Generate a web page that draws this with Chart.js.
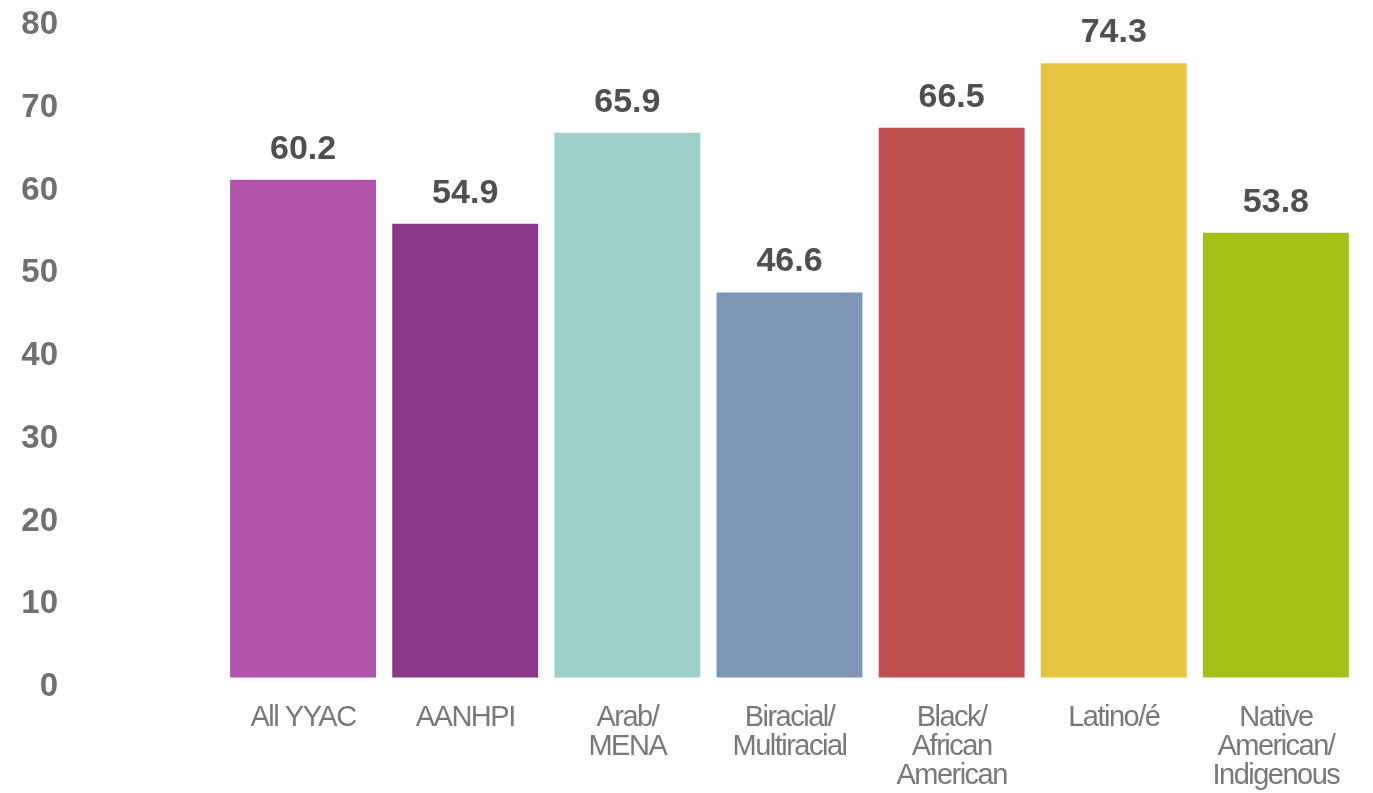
<!DOCTYPE html>
<html>
<head>
<meta charset="utf-8">
<script src="https://cdn.jsdelivr.net/npm/chart.js@4"></script>
<style>
  html, body { margin: 0; padding: 0; background: #ffffff; }
  #wrap { width: 1373px; height: 793px; position: relative; }
</style>
</head>
<body>
<div id="wrap"><canvas id="chart"></canvas></div>
<script>
const categories = [
  ['All YYAC'],
  ['AANHPI'],
  ['Arab/', 'MENA'],
  ['Biracial/', 'Multiracial'],
  ['Black/', 'African', 'American'],
  ['Latino/é'],
  ['Native', 'American/', 'Indigenous']
];
const values = [60.2, 54.9, 65.9, 46.6, 66.5, 74.3, 53.8];
const barColors = ['#b054ab', '#873889', '#9bd1c8', '#7f96b7', '#c04f4f', '#e6c440', '#a5c118'];
const yTicks = [0, 10, 20, 30, 40, 50, 60, 70, 80];


// x labels in the original are set tight, so squeeze them a bit
const tightText = {
  id: 'tightText',
  beforeDraw(chart) {
    chart.ctx.letterSpacing = '-1.5px';
  },
  beforeDatasetsDraw(chart) {
    chart.ctx.letterSpacing = '0px';
  }
};

// draws the value above each bar
const valueLabels = {
  id: 'valueLabels',
  afterDatasetsDraw(chart) {
    const ctx = chart.ctx;
    const meta = chart.getDatasetMeta(0);
    ctx.save();
    ctx.font = 'bold 34px "Liberation Sans", Arial, sans-serif';
    ctx.fillStyle = '#4f4f4f';
    ctx.textAlign = 'center';
    ctx.textBaseline = 'alphabetic';
    meta.data.forEach((bar, i) => {
      ctx.fillText(values[i].toFixed(1), bar.x, bar.y - 21);
    });
    ctx.restore();
  }
};


new Chart(document.getElementById('chart'), {
  type: 'bar',
  data: {
    labels: categories,
    datasets: [{
      data: values,
      backgroundColor: barColors,
      borderWidth: 0,
      categoryPercentage: 0.9,
      barPercentage: 1.0
    }]
  },
  options: {
    responsive: true,
    maintainAspectRatio: false,
    animation: false,
    layout: { padding: { top: 16, right: 16, left: 0, bottom: 0 } },
    plugins: {
      legend: { display: false },
      tooltip: { enabled: false }
    },
    scales: {
      x: {
        grid: { display: false, drawTicks: false },
        border: { display: false },
        ticks: {
          color: '#787878',
          padding: 25,
          maxRotation: 0,
          autoSkip: false,
          font: { family: '"Liberation Sans", Arial, sans-serif', size: 29, lineHeight: 1.0 }
        },
        afterFit: scale => { scale.height = 115; }
      },
      y: {
        min: 0,
        max: 80,
        // invisible tick marks push the labels out to the left edge
        grid: { display: true, drawOnChartArea: false, drawTicks: true, tickLength: 164, color: 'rgba(0,0,0,0)' },
        border: { display: false },
        afterBuildTicks: scale => { scale.ticks = yTicks.map(v => ({ value: v })); },
        ticks: {
          color: '#707070',
          padding: 0,
          labelOffset: 9,
          z: 1,
          font: { family: '"Liberation Sans", Arial, sans-serif', size: 33, weight: 'bold', lineHeight: 0.8 }
        },
        afterFit: scale => { scale.width = 222; }
      }
    }
  },
  plugins: [tightText, valueLabels]
});
</script>
</body>
</html>
